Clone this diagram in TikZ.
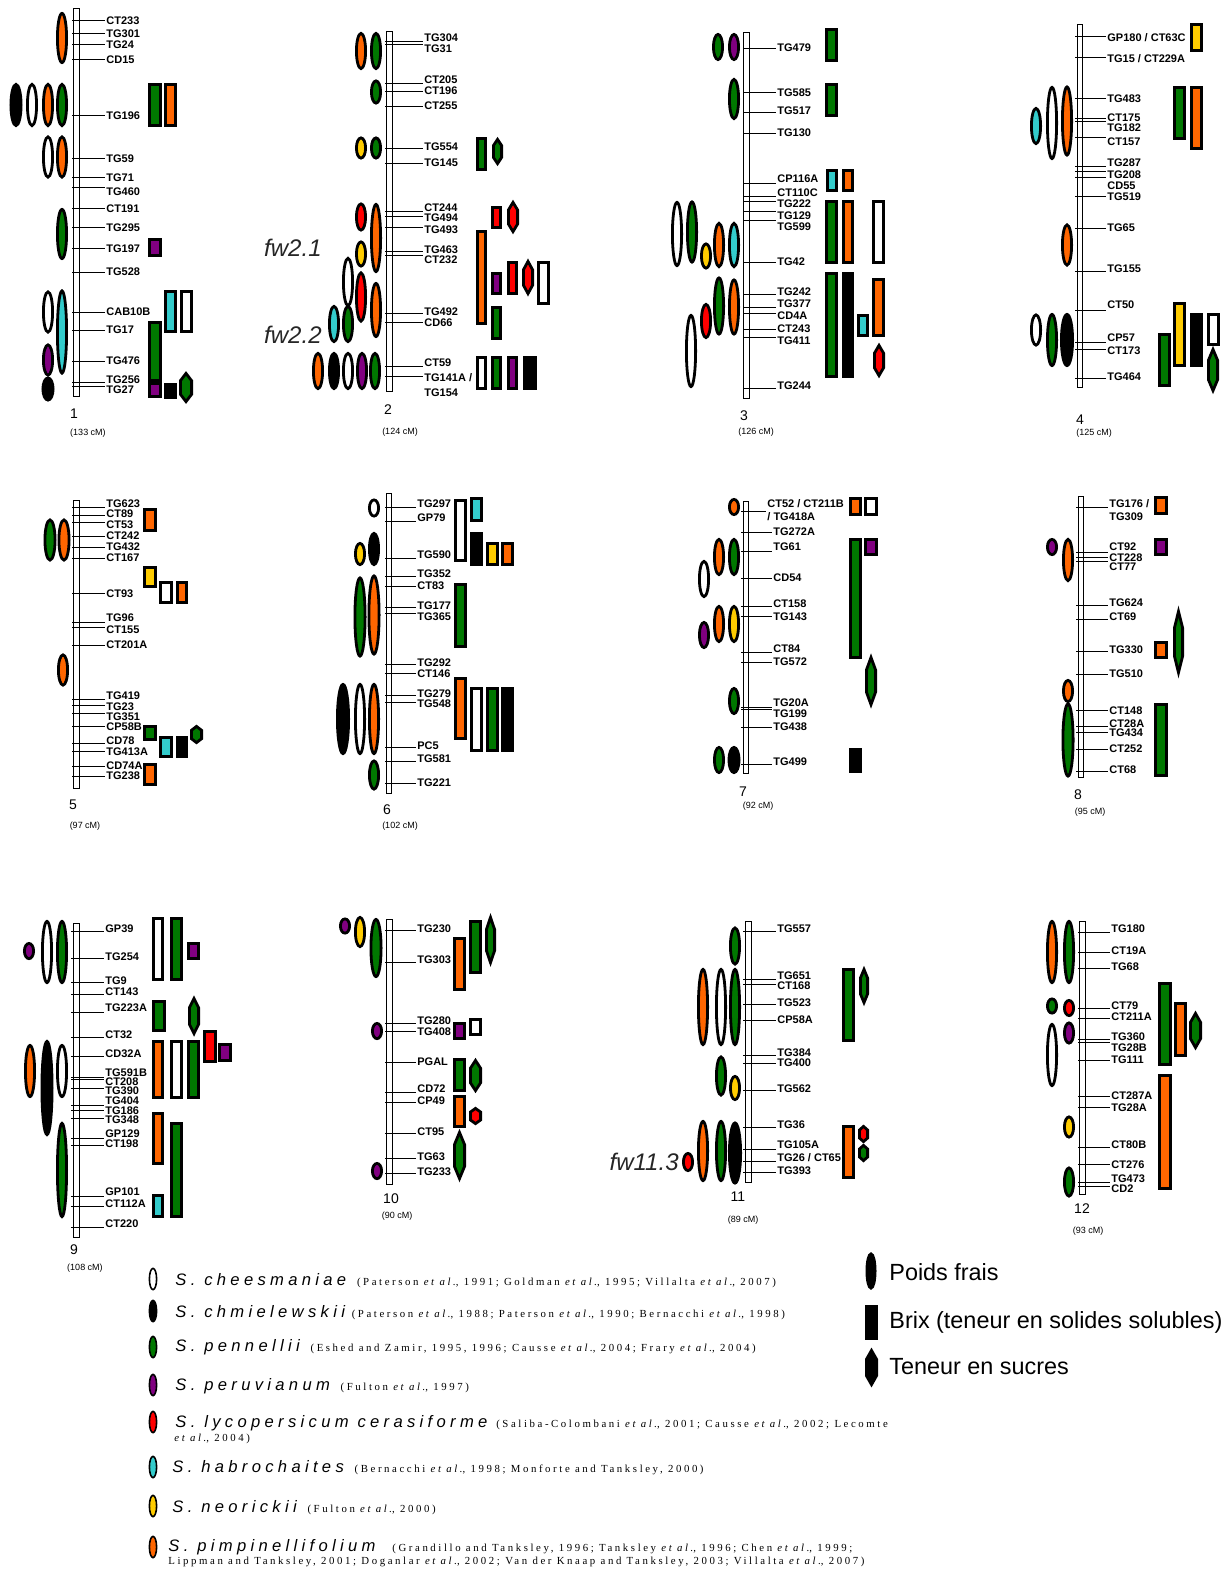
\documentclass[tikz,border=0pt]{standalone}
\usepackage{fontspec}
\setmainfont{Liberation Sans}
\newfontfamily\citefont[LetterSpace=24]{Liberation Serif}
\newfontfamily\spfont[LetterSpace=26]{Liberation Sans}
\usetikzlibrary{positioning}
\definecolor{qorange}{HTML}{FF6600}
\definecolor{qgreen}{HTML}{007800}
\definecolor{qpurple}{HTML}{800080}
\definecolor{qred}{HTML}{FF0000}
\definecolor{qcyan}{HTML}{33CCCC}
\definecolor{qyellow}{HTML}{FFCC00}
\tikzset{
  qtl/.style={draw=black, line width=1.4pt},
  mktick/.style={line width=0.5pt},
  chrom/.style={draw=black, fill=white, line width=0.5pt},
  mklab/.style={anchor=west, inner sep=0.5pt, font=\fontsize{5.5}{6}\selectfont\bfseries},
  chrnum/.style={inner sep=0pt, font=\fontsize{7}{8}\selectfont},
  chrlen/.style={inner sep=0pt, font=\fontsize{4.5}{5}\selectfont},
  fwlab/.style={anchor=east, inner sep=0pt, text=black!85, font=\fontsize{12}{14}\selectfont\itshape},
  splab/.style={anchor=west, inner sep=0pt, font=\fontsize{8.3}{9}\selectfont\spfont\itshape},
  citelab/.style={anchor=base west, inner sep=0pt, font=\fontsize{5.4}{6}\selectfont\citefont},
  keylab/.style={anchor=west, inner sep=0pt, font=\fontsize{11.7}{13}\selectfont},
}
% ellipse: colour, x, y, width, height (pixels)
\newcommand{\qe}[5]{\draw[qtl,fill=#1] (#2,#3) ellipse ({#4*0.25pt-0.7pt} and {#5*0.25pt-0.7pt});}
% box: colour, x1, y1, x2, y2
\newcommand{\qr}[5]{\draw[qtl,fill=#1] ({#2+1.4},{#3+1.4}) rectangle ({#4-1.4},{#5-1.4});}
% hexagon: colour, x1, y1, x2, y2
\newcommand{\qh}[5]{\draw[qtl,fill=#1] ({(#2+#4)/2},{#3+1.4}) -- ({#4-1.4},{#3+0.28*(#5-#3)})
  -- ({#4-1.4},{#5-0.28*(#5-#3)}) -- ({(#2+#4)/2},{#5-1.4}) -- ({#2+1.4},{#5-0.28*(#5-#3)})
  -- ({#2+1.4},{#3+0.28*(#5-#3)}) -- cycle;}
% markers: prefix, tick start, tick end, label x, list
\newcommand{\mkset}[5]{\foreach \lab/\ty/\ly [count=\i] in {#5}{
  \node[mklab] (#1\i) at (#4,\ly) {\lab};
  \draw[mktick] (#2,\ty) -- (#1\i.west |- 0,\ty);}}
\newcommand{\msl}{/}

\begin{document}
\begin{tikzpicture}[x=0.5pt, y=-0.5pt]
  \fill[white] (0,0) rectangle (1229,1573);
  \useasboundingbox (0,0) rectangle (1229,1573);

  % chromosome 1
  \draw[chrom] (73,9) rectangle (79,396);
  \mkset{ma}{72}{104}{105}{CT233/21/21, TG301/34/34, TG24/45/45, CD15/60/60, TG196/116/116,
    TG59/159/159, TG71/178/178, TG460/188/192, CT191/209/209, TG295/228/228, TG197/249/249,
    TG528/272/272, CAB10B/312/312, TG17/330/330, TG476/361/361, TG256/382/380, TG27/386/390}
  \qe{qorange}{62}{38}{12}{52}
  \qe{black}{16}{105}{13}{44} \qe{white}{32}{105}{12}{44} \qe{qorange}{48}{105}{12}{44} \qe{qgreen}{62}{105}{12}{44}
  \qe{white}{48}{157}{12}{43} \qe{qorange}{62}{157}{12}{43}
  \qe{qgreen}{62}{234}{12}{52}
  \qe{white}{48}{312}{12}{43} \qe{qcyan}{62}{332}{12}{85}
  \qe{qpurple}{48}{360}{12}{33} \qe{black}{48}{389}{13}{25}
  \qr{qgreen}{148}{83}{162}{127} \qr{qorange}{164}{83}{177}{127}
  \qr{qpurple}{148}{238}{162}{257}
  \qr{qcyan}{164}{290}{177}{333} \qr{white}{180}{290}{193}{333}
  \qr{qgreen}{148}{321}{162}{382} \qr{qpurple}{148}{382}{162}{398}
  \qr{black}{164}{383}{177}{399} \qh{qgreen}{179}{372}{193}{403}
  \node[chrnum] (n1) at (74,414) {1};
  \node[chrlen] (l1) at (88,433) {(133 cM)};

  % chromosome 2
  \draw[chrom] (386,32) rectangle (392,391);
  \mkset{mb}{385}{417}{423}{TG304/42/38, TG31/45/49, CT205/84/80, CT196/92/91, CT255/107/106,
    TG554/149/147, TG145/164/163, CT244/212/208, TG494/217/218, TG493/228/230, TG463/252/250,
    CT232/256/260, TG492/313/312, CD66/322/323, CT59/366/363, TG141A \msl/376/378}
  \node[mklab] (mbx) at (423,393) {TG154};
  \qe{qorange}{361}{51}{12}{38} \qe{qgreen}{376}{51}{12}{38}
  \qe{qgreen}{376}{92}{12}{25}
  \qe{qyellow}{361}{148}{12}{23} \qe{qgreen}{376}{148}{12}{23}
  \qe{qred}{361}{217}{12}{29} \qe{qorange}{376}{238}{12}{70}
  \qe{qyellow}{361}{254}{12}{27}
  \qe{white}{348}{282}{12}{50} \qe{qred}{361}{297}{12}{51} \qe{qorange}{376}{310}{12}{56}
  \qe{qcyan}{334}{324}{12}{38} \qe{qgreen}{348}{324}{12}{38}
  \qe{qorange}{318}{371}{12}{38} \qe{black}{334}{371}{12}{38} \qe{white}{348}{371}{12}{38}
  \qe{qpurple}{362}{371}{12}{38} \qe{qgreen}{375}{371}{12}{38}
  \qr{qgreen}{476}{137}{487}{171} \qh{qgreen}{492}{138}{503}{165}
  \qr{qred}{491}{206}{502}{229} \qh{qred}{507}{201}{519}{233}
  \qr{qorange}{476}{230}{487}{325}
  \qr{qpurple}{491}{272}{502}{295} \qr{qred}{507}{261}{518}{295}
  \qh{qred}{522}{260}{534}{295} \qr{white}{537}{261}{550}{305}
  \qr{qgreen}{491}{306}{502}{340}
  \qr{white}{476}{356}{487}{390} \qr{qgreen}{491}{356}{502}{390}
  \qr{qpurple}{507}{356}{518}{390} \qr{black}{523}{356}{537}{390}
  \node[fwlab] (fw21) at (322,248) {fw2.1};
  \node[fwlab] (fw22) at (322,335) {fw2.2};
  \node[chrnum] (n2) at (388,410) {2};
  \node[chrlen] (l2) at (400,432) {(124 cM)};

  % chromosome 3
  \draw[chrom] (743,33) rectangle (749,398);
  \mkset{mc}{743}{775}{776}{TG479/49/48, TG585/93/93, TG517/113/111, TG130/134/133,
    CP116A/184/179, CT110C/197/193, TG222/202/204, TG129/212/216, TG599/221/227, TG42/263/262,
    TG242/294/292, TG377/307/304, CD4A/313/316, CT243/329/329, TG411/337/341, TG244/388/386}
  \qe{qgreen}{718}{47}{12}{28} \qe{qpurple}{734}{47}{12}{28}
  \qe{qgreen}{734}{99}{12}{42}
  \qe{white}{677}{234}{12}{66} \qe{qgreen}{692}{232}{12}{63} \qe{qyellow}{706}{256}{12}{27}
  \qe{qorange}{719}{245}{12}{46} \qe{qcyan}{734}{245}{12}{46}
  \qe{qgreen}{719}{306}{12}{59} \qe{qorange}{734}{307}{12}{57}
  \qe{qred}{706}{321}{12}{36} \qe{white}{691}{351}{12}{74}
  \qr{qgreen}{825}{28}{838}{62}
  \qr{qgreen}{825}{83}{838}{117}
  \qr{qcyan}{826}{169}{838}{192} \qr{qorange}{842}{169}{854}{192}
  \qr{qgreen}{825}{200}{838}{264} \qr{qorange}{842}{200}{854}{264} \qr{white}{872}{200}{885}{264}
  \qr{qgreen}{825}{272}{838}{378} \qr{black}{842}{272}{854}{378}
  \qr{qcyan}{857}{314}{869}{337} \qr{qorange}{872}{278}{885}{337}
  \qh{qred}{873}{344}{885}{377}
  \node[chrnum] (n3) at (744,416) {3};
  \node[chrlen] (l3) at (756,432) {(126 cM)};

  % chromosome 4
  \draw[chrom] (1077,25) rectangle (1082,387);
  \mkset{md}{1075}{1107}{1106}{GP180 \msl{} CT63C/37/38, TG15 \msl{} CT229A/58/59, TG483/99/99,
    CT175/119/118, TG182/122/128, CT157/138/142, TG287/167/163, TG208/172/175, CD55/178/186,
    TG519/197/197, TG65/229/228, TG155/271/269, CT50/310/305, CP57/342/338, CT173/349/351,
    TG464/378/377}
  \qe{qcyan}{1036}{126}{12}{38} \qe{white}{1052}{123}{12}{74} \qe{qorange}{1067}{121}{12}{71}
  \qe{qorange}{1067}{245}{12}{43}
  \qe{white}{1036}{330}{12}{33} \qe{qgreen}{1052}{340}{12}{54} \qe{black}{1067}{340}{14}{54}
  \qr{qyellow}{1190}{23}{1203}{52}
  \qr{qgreen}{1173}{86}{1186}{140} \qr{qorange}{1190}{86}{1203}{150}
  \qr{qyellow}{1173}{302}{1186}{367} \qr{black}{1190}{313}{1203}{367}
  \qr{white}{1207}{313}{1220}{346} \qr{qgreen}{1158}{333}{1171}{387}
  \qh{qgreen}{1207}{348}{1219}{392}
  \node[chrnum] (n4) at (1080,420) {4};
  \node[chrlen] (l4) at (1094,433) {(125 cM)};

  % chromosome 5
  \draw[chrom] (73,500) rectangle (79,788);
  \mkset{me}{72}{103}{105}{TG623/507/504, CT89/515/514, CT53/522/525, CT242/536/536,
    TG432/547/547, CT167/558/558, CT93/593/594, TG96/622/618, CT155/627/630, CT201A/645/645,
    TG419/699/696, TG23/705/707, TG351/713/717, CP58B/726/727, CD78/743/741, TG413A/751/752,
    CD74A/766/766, TG238/776/776}
  \qe{qgreen}{50}{540}{13}{43} \qe{qorange}{64}{540}{13}{43}
  \qe{qorange}{63}{670}{12}{33}
  \qr{qorange}{143}{508}{157}{532}
  \qr{qyellow}{143}{566}{157}{588} \qr{white}{159}{581}{173}{604} \qr{qorange}{176}{581}{188}{604}
  \qr{qgreen}{143}{725}{157}{741} \qr{qcyan}{159}{736}{173}{758} \qr{black}{176}{736}{188}{758}
  \qh{qgreen}{190}{725}{203}{744}
  \qr{qorange}{143}{763}{157}{786}
  \node[chrnum] (n5) at (73,805) {5};
  \node[chrlen] (l5) at (85,826) {(97 cM)};

  % chromosome 6
  \draw[chrom] (386,493) rectangle (391,793);
  \mkset{mf}{385}{415}{416}{TG297/507/504, GP79/521/518, TG590/558/555, TG352/576/574,
    CT83/586/586, TG177/607/606, TG365/613/617, TG292/664/663, CT146/673/674, TG279/695/694,
    TG548/702/704, PC5/747/746, TG581/761/759, TG221/783/783}
  \qe{white}{374}{508}{12}{19}
  \qe{qyellow}{360}{554}{12}{24} \qe{black}{374}{549}{12}{34}
  \qe{qgreen}{360}{617}{13}{81} \qe{qorange}{374}{615}{13}{81}
  \qe{black}{343}{719}{14}{72} \qe{white}{360}{719}{12}{72} \qe{qorange}{374}{719}{12}{72}
  \qe{qgreen}{374}{775}{12}{31}
  \qr{white}{454}{499}{467}{562} \qr{qcyan}{470}{497}{483}{522}
  \qr{black}{470}{532}{483}{566} \qr{qyellow}{486}{542}{499}{566} \qr{qorange}{501}{542}{514}{566}
  \qr{qgreen}{454}{583}{467}{648}
  \qr{qorange}{454}{677}{467}{740} \qr{white}{470}{687}{483}{752}
  \qr{qgreen}{486}{687}{499}{752} \qr{black}{501}{687}{514}{752}
  \node[chrnum] (n6) at (387,810) {6};
  \node[chrlen] (l6) at (400,826) {(102 cM)};

  % chromosome 7
  \draw[chrom] (743,501) rectangle (748,773);
  \node[mklab] (mgx) at (766,504) {CT52 \msl{} CT211B};
  \node[mklab] (mgy) at (766,517) {\msl{} TG418A};
  \draw[mktick] (741,511) -- (mgy.west |- 0,511);
  \mkset{mg}{741}{773}{772}{TG272A/532/532, TG61/551/547, CD54/578/578, CT158/606/604,
    TG143/616/617, CT84/652/649, TG572/662/662, TG20A/707/703, TG199/709/714, TG438/727/727,
    TG499/764/762}
  \qe{qorange}{734}{507}{12}{18}
  \qe{qorange}{719}{557}{12}{38} \qe{qgreen}{734}{557}{12}{38}
  \qe{white}{704}{579}{12}{38}
  \qe{qorange}{719}{624}{12}{38} \qe{qyellow}{734}{624}{12}{38} \qe{qpurple}{704}{635}{12}{28}
  \qe{qgreen}{734}{701}{12}{28}
  \qe{qgreen}{719}{760}{12}{28} \qe{black}{734}{760}{13}{28}
  \qr{qorange}{849}{497}{862}{516} \qr{white}{864}{497}{878}{516}
  \qr{qgreen}{849}{538}{862}{659} \qr{qpurple}{864}{538}{878}{556}
  \qh{qgreen}{865}{656}{877}{706}
  \qr{black}{849}{748}{862}{773}
  \node[chrnum] (n7) at (743,792) {7};
  \node[chrlen] (l7) at (758,806) {(92 cM)};

  % chromosome 8
  \draw[chrom] (1078,496) rectangle (1083,777);
  \mkset{mh}{1076}{1108}{1108}{TG176 \msl/507/504, CT92/552/547, CT228/557/558, CT77/561/567,
    TG624/605/603, CT69/619/617, TG330/651/650, TG510/674/674, CT148/710/711, CT28A/726/724,
    TG434/732/733, CT252/749/749, CT68/771/770}
  \node[mklab] (mhx) at (1108,517) {TG309};
  \qe{qpurple}{1052}{547}{12}{18} \qe{qorange}{1068}{560}{12}{44}
  \qe{qorange}{1068}{691}{12}{24} \qe{qgreen}{1068}{740}{13}{75}
  \qr{qorange}{1154}{496}{1168}{515}
  \qr{qpurple}{1154}{538}{1168}{556}
  \qr{qorange}{1154}{641}{1168}{659} \qh{qgreen}{1173}{610}{1184}{674}
  \qr{qgreen}{1154}{703}{1168}{777}
  \node[chrnum] (n8) at (1078,795) {8};
  \node[chrlen] (l8) at (1090,812) {(95 cM)};

  % chromosome 9
  \draw[chrom] (73,923) rectangle (79,1237);
  \mkset{mi}{71}{103}{104}{GP39/931/929, TG254/958/957, TG9/982/981, CT143/994/992,
    TG223A/1012/1008, CT32/1037/1035, CD32A/1056/1054, TG591B/1077/1073, CT208/1079/1082,
    TG390/1088/1091, TG404/1105/1101, TG186/1110/1111, TG348/1118/1120, GP129/1138/1134,
    CT198/1145/1144, GP101/1196/1192, CT112A/1206/1204, CT220/1227/1224}
  \qe{qpurple}{29}{951}{12}{18} \qe{white}{47}{952}{12}{64} \qe{qgreen}{62}{952}{12}{64}
  \qe{qorange}{30}{1071}{12}{54} \qe{black}{47}{1088}{13}{96} \qe{white}{62}{1071}{12}{54}
  \qe{qgreen}{62}{1170}{12}{96}
  \qr{white}{152}{917}{164}{981} \qr{qgreen}{170}{917}{183}{981} \qr{qpurple}{187}{942}{200}{960}
  \qr{qgreen}{152}{1000}{166}{1032} \qh{qgreen}{188}{997}{200}{1035}
  \qr{qred}{203}{1030}{217}{1063} \qr{qpurple}{218}{1043}{232}{1062}
  \qr{qorange}{152}{1040}{164}{1099} \qr{white}{170}{1040}{183}{1099} \qr{qgreen}{187}{1040}{200}{1099}
  \qr{qorange}{152}{1112}{164}{1165} \qr{qgreen}{170}{1122}{183}{1218}
  \qr{qcyan}{152}{1194}{164}{1218}
  \node[chrnum] (n9) at (74,1250) {9};
  \node[chrlen] (l9) at (85,1268) {(108 cM)};

  % chromosome 10
  \draw[chrom] (386,919) rectangle (392,1184);
  \mkset{mj}{385}{415}{416}{TG230/930/929, TG303/962/960, TG280/1023/1021, TG408/1031/1032,
    PGAL/1062/1062, CD72/1092/1089, CP49/1102/1101, CT95/1133/1132, TG63/1158/1157,
    TG233/1173/1172}
  \qe{qpurple}{345}{926}{12}{17} \qe{qyellow}{360}{932}{12}{32} \qe{qgreen}{376}{948}{13}{60}
  \qe{qpurple}{377}{1031}{12}{18}
  \qe{qpurple}{377}{1171}{12}{18}
  \qr{qgreen}{469}{920}{482}{974} \qh{qgreen}{485}{916}{496}{964}
  \qr{qorange}{453}{937}{466}{991}
  \qr{qpurple}{453}{1022}{466}{1040} \qr{white}{469}{1018}{482}{1036}
  \qr{qgreen}{453}{1058}{466}{1092} \qh{qgreen}{469}{1059}{482}{1092}
  \qr{qorange}{453}{1095}{466}{1128} \qh{qred}{469}{1107}{482}{1125}
  \qh{qgreen}{453}{1131}{466}{1180}
  \node[chrnum] (n10) at (391,1199) {10};
  \node[chrlen] (l10) at (397,1216) {(90 cM)};

  % chromosome 11
  \draw[chrom] (745,921) rectangle (751,1182);
  \mkset{mk}{743}{776}{776}{TG557/931/929, TG651/979/976, CT168/984/986, TG523/1004/1003,
    CP58A/1020/1020, TG384/1055/1053, TG400/1063/1063, TG562/1090/1089, TG36/1127/1125,
    TG105A/1149/1145, TG26 \msl{} CT65/1161/1158, TG393/1172/1171}
  \qe{qgreen}{735}{946}{12}{39}
  \qe{qorange}{703}{1007}{12}{78} \qe{white}{721}{1007}{12}{78} \qe{qgreen}{735}{1007}{12}{78}
  \qe{qgreen}{721}{1076}{12}{41} \qe{qyellow}{735}{1088}{12}{26}
  \qe{qorange}{703}{1151}{12}{62} \qe{qgreen}{721}{1151}{12}{62} \qe{black}{735}{1153}{14}{63}
  \qe{qred}{688}{1162}{12}{20}
  \qr{qgreen}{842}{968}{855}{1042} \qh{qgreen}{859}{968}{869}{1004}
  \qr{qorange}{842}{1125}{855}{1179} \qh{qred}{858}{1125}{869}{1143} \qh{qgreen}{858}{1144}{869}{1162}
  \node[fwlab] (fw113) at (679,1162) {fw11.3};
  \node[chrnum] (n11) at (738,1197) {11};
  \node[chrlen] (l11) at (743,1220) {(89 cM)};

  % chromosome 12
  \draw[chrom] (1079,921) rectangle (1085,1194);
  \mkset{ml}{1078}{1110}{1110}{TG180/932/929, CT19A/952/951, TG68/968/967, CT79/1008/1006,
    CT211A/1018/1017, TG360/1039/1037, TG28B/1042/1048, TG111/1060/1060, CT287A/1096/1096,
    TG28A/1107/1108, CT80B/1147/1145, CT276/1164/1165, TG473/1182/1179, CD2/1186/1189}
  \qe{qorange}{1052}{952}{12}{64} \qe{qgreen}{1069}{952}{12}{64}
  \qe{qgreen}{1052}{1006}{12}{17} \qe{qred}{1069}{1008}{12}{18}
  \qe{white}{1052}{1055}{12}{64} \qe{qpurple}{1069}{1033}{12}{23}
  \qe{qyellow}{1069}{1127}{12}{23}
  \qe{qgreen}{1069}{1182}{12}{31}
  \qr{qgreen}{1158}{982}{1172}{1066} \qr{qorange}{1174}{1002}{1187}{1057}
  \qh{qgreen}{1189}{1012}{1202}{1049}
  \qr{qorange}{1158}{1074}{1172}{1190}
  \node[chrnum] (n12) at (1082,1209) {12};
  \node[chrlen] (l12) at (1088,1231) {(93 cM)};

  % legend, species
  \begin{scope}[qtl/.append style={line width=0.8pt}]
    \qe{white}{153}{1279}{10}{24} \qe{black}{153}{1311}{10}{24} \qe{qgreen}{153}{1347}{10}{24}
    \qe{qpurple}{153}{1385}{10}{24} \qe{qred}{153}{1422}{10}{24} \qe{qcyan}{153}{1467}{10}{24}
    \qe{qyellow}{153}{1506}{10}{24} \qe{qorange}{153}{1547}{10}{24}
  \end{scope}
  \node[splab] (sp1) at (175,1280) {S. cheesmaniae};
  \node[citelab] (ct1) at ([xshift=5pt]sp1.base east) {(Paterson \textit{et al.}, 1991; Goldman \textit{et al.}, 1995; Villalta \textit{et al.}, 2007)};
  \node[splab] (sp2) at (175,1312) {S. chmielewskii};
  \node[citelab] (ct2) at ([xshift=3pt]sp2.base east) {(Paterson \textit{et al.}, 1988; Paterson \textit{et al.}, 1990; Bernacchi \textit{et al.}, 1998)};
  \node[splab] (sp3) at (175,1347) {S. pennellii};
  \node[citelab] (ct3) at ([xshift=5pt]sp3.base east) {(Eshed and Zamir, 1995, 1996; Causse \textit{et al.}, 2004; Frary \textit{et al.}, 2004)};
  \node[splab] (sp4) at (175,1386) {S. peruvianum};
  \node[citelab] (ct4) at ([xshift=5pt]sp4.base east) {(Fulton \textit{et al.}, 1997)};
  \node[splab] (sp5) at (175,1423) {S. lycopersicum cerasiforme};
  \node[citelab] (ct5) at ([xshift=4pt]sp5.base east) {(Saliba-Colombani \textit{et al.}, 2001; Causse \textit{et al.}, 2002; Lecomte};
  \node[citelab] (ct5b) at (174,1441) {\textit{et al.}, 2004)};
  \node[splab] (sp6) at (172,1467) {S. habrochaites};
  \node[citelab] (ct6) at ([xshift=5pt]sp6.base east) {(Bernacchi \textit{et al.}, 1998; Monforte and Tanksley, 2000)};
  \node[splab] (sp7) at (172,1507) {S. neorickii};
  \node[citelab] (ct7) at ([xshift=5pt]sp7.base east) {(Fulton \textit{et al.}, 2000)};
  \node[splab] (sp8) at (168,1547) {S. pimpinellifolium};
  \node[citelab] (ct8) at ([xshift=8pt]sp8.base east) {(Grandillo and Tanksley, 1996; Tanksley \textit{et al.}, 1996; Chen \textit{et al.}, 1999;};
  \node[citelab] (ct8b) at (168,1564) {Lippman and Tanksley, 2001; Doganlar \textit{et al.}, 2002; Van der Knaap and Tanksley, 2003; Villalta \textit{et al.}, 2007)};

  % legend, traits
  \qe{black}{871}{1271}{11}{37}
  \qr{black}{865}{1305}{878}{1340}
  \qh{black}{865}{1349}{878}{1386}
  \node[keylab] (k1) at (889,1272) {Poids frais};
  \node[keylab] (k2) at (889,1322) {Brix (teneur en solides solubles)};
  \node[keylab] (k3) at (889,1367) {Teneur en sucres};
\end{tikzpicture}
\end{document}
